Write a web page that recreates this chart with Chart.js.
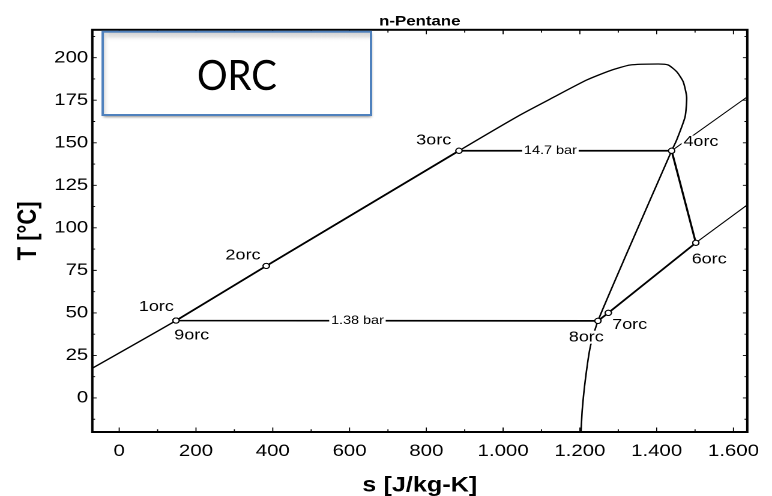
<!DOCTYPE html>
<html>
<head>
<meta charset="utf-8">
<title>n-Pentane T-s</title>
<script src="https://cdn.jsdelivr.net/npm/chart.js@4.4.0/dist/chart.umd.min.js"></script>
<style>
  html, body { margin: 0; padding: 0; background: #fff; overflow: hidden; width: 772px; height: 496px; }
  /* The plot is drawn on a narrower canvas and widened to the full page width */
  #wrap { width: 643px; height: 496px; transform: scaleX(1.20062); transform-origin: 0 0; }
  canvas { display: block; }
</style>
</head>
<body>
<div id="wrap"><canvas id="ts" width="643" height="496"></canvas></div>
<script>
// Saturation dome of n-pentane: entropy s [J/kg-K] and temperature T [°C]
const domeS = [-70, 148, 383, 885, 1044, 1131, 1218, 1279, 1331, 1404, 1430, 1452, 1469, 1478, 1474, 1452, 1439, 1322, 1247, 1227, 1214, 1206, 1203];
const domeT = [17.5, 45.5, 77.6, 145.3, 166.3, 176.7, 186.9, 192.4, 195.7, 196.3, 195.7, 191.8, 185.9, 177, 165.3, 151.6, 145.3, 84.9, 45.3, 30, 10.4, -7.3, -20];

// ORC state points, in cycle order
const stateNames = ['1orc', '2orc', '3orc', '4orc', '6orc', '7orc', '8orc', '9orc'];
const stateS = [148, 383, 885, 1439, 1502, 1274, 1247, 148];
const stateT = [45.5, 77.6, 145.3, 145.3, 91.2, 50, 45.3, 45.5];

// Isobars continued into the superheated vapour region
const highIsobarS = [1439, 1636];
const highIsobarT = [145.3, 177];
const lowIsobarS = [1502, 1636];
const lowIsobarT = [91.2, 113.5];
const isobarNames = ['14.7 bar', '1.38 bar'];

// Axis ticks
const xTicks = [0, 200, 400, 600, 800, 1000, 1200, 1400, 1600];
const xTickLabels = ['0', '200', '400', '600', '800', '1.000', '1.200', '1.400', '1.600'];
const xMinorTicks = [100, 300, 500, 700, 900, 1100, 1300, 1500];
const yTicks = [0, 25, 50, 75, 100, 125, 150, 175, 200];
const yMinorTicks = [-12.5, 12.5, 37.5, 62.5, 87.5, 112.5, 137.5, 162.5, 187.5, 212.5];

const FONT = '"Liberation Sans", Arial, Helvetica, sans-serif';
const WIDEN = 772 / 643;

// Label placement around each state point (canvas px)
const labelOffsets = {
  '1orc': [-16.4, -13.8], '2orc': [-19.4, -10.4], '3orc': [-21, -10.2], '4orc': [24.4, -8.7],
  '6orc': [11.1, 16.6], '7orc': [17.8, 12], '8orc': [-9.7, 16.3], '9orc': [13.1, 14.7]
};

const toXY = (sArr, tArr) => sArr.map((s, i) => ({ x: s, y: tArr[i] }));

function boxedText(ctx, text, cx, cy, h) {
  const w = ctx.measureText(text).width;
  ctx.fillStyle = '#fff';
  ctx.fillRect(cx - w / 2 - 1.5, cy - h / 2, w + 3, h);
  ctx.fillStyle = '#000';
  ctx.fillText(text, cx, cy);
}

const annotations = {
  id: 'annotations',
  afterDatasetsDraw(chart) {
    const { ctx, scales: { x, y } } = chart;
    ctx.save();
    ctx.textAlign = 'center';
    ctx.textBaseline = 'middle';

    // isobar labels sit on the horizontal segments 3orc-4orc and 9orc-8orc
    ctx.font = '12px ' + FONT;
    const hx = x.getPixelForValue(stateS[2]) + 0.43 * (x.getPixelForValue(stateS[3]) - x.getPixelForValue(stateS[2]));
    boxedText(ctx, isobarNames[0], hx, y.getPixelForValue(stateT[2]), 12);
    const lx = x.getPixelForValue(stateS[7]) + 0.43 * (x.getPixelForValue(stateS[6]) - x.getPixelForValue(stateS[7]));
    boxedText(ctx, isobarNames[1], lx, y.getPixelForValue(stateT[7]), 12);

    // state point names
    ctx.font = '15px ' + FONT;
    stateNames.forEach((name, i) => {
      const off = labelOffsets[name];
      boxedText(ctx, name, x.getPixelForValue(stateS[i]) + off[0], y.getPixelForValue(stateT[i]) + off[1], 13);
    });
    ctx.restore();

    // markers on top of the labels' white boxes
    const meta = chart.getDatasetMeta(1);
    meta.data.forEach(pt => pt.draw(ctx, chart.chartArea));
  },
  afterDraw(chart) {
    const { ctx, chartArea: a, scales: { x, y } } = chart;
    ctx.save();
    ctx.strokeStyle = '#000';
    // inward ticks on all four sides
    ctx.lineWidth = 0.9;
    ctx.beginPath();
    const xt = (list, len) => list.forEach(v => {
      const p = x.getPixelForValue(v);
      ctx.moveTo(p, a.bottom); ctx.lineTo(p, a.bottom - len);
      ctx.moveTo(p, a.top); ctx.lineTo(p, a.top + len);
    });
    const yt = (list, len) => list.forEach(v => {
      const p = y.getPixelForValue(v);
      ctx.moveTo(a.left, p); ctx.lineTo(a.left + len, p);
      ctx.moveTo(a.right, p); ctx.lineTo(a.right - len, p);
    });
    xt(xTicks, 4.5); xt(xMinorTicks, 2.8);
    yt(yTicks, 3.6); yt(yMinorTicks, 2.3);
    ctx.stroke();
    ctx.lineWidth = 2;
    ctx.strokeRect(a.left, a.top, a.right - a.left, a.bottom - a.top);

    // "ORC" caption box with a soft drop shadow and inner shading
    const bx0 = 102.7 / WIDEN, bx1 = 371 / WIDEN, by0 = 31.7, by1 = 115;
    ctx.save();
    ctx.shadowColor = 'rgba(0,0,0,0.45)';
    ctx.shadowBlur = 5;
    ctx.shadowOffsetY = 4;
    ctx.shadowOffsetX = 1;
    ctx.fillStyle = '#fff';
    ctx.fillRect(bx0, by0, bx1 - bx0, by1 - by0);
    ctx.restore();
    let g = ctx.createLinearGradient(0, by0, 0, by0 + 10);
    g.addColorStop(0, '#cfcfcf'); g.addColorStop(0.5, '#e4e4e4'); g.addColorStop(1, 'rgba(255,255,255,0)');
    ctx.fillStyle = g;
    ctx.fillRect(bx0, by0, bx1 - bx0, 10);
    g = ctx.createLinearGradient(bx0, 0, bx0 + 6, 0);
    g.addColorStop(0, '#cfcfcf'); g.addColorStop(1, 'rgba(255,255,255,0)');
    ctx.fillStyle = g;
    ctx.fillRect(bx0, by0, 6, by1 - by0);
    ctx.strokeStyle = '#4f81bd';
    ctx.lineWidth = 2;
    ctx.strokeRect(bx0, by0, bx1 - bx0, by1 - by0);

    ctx.font = '42px Lato, "Open Sans", sans-serif';
    ctx.textAlign = 'center';
    ctx.textBaseline = 'alphabetic';
    const tw = ctx.measureText('ORC').width;
    ctx.translate((bx0 + bx1) / 2, 90);
    ctx.scale((80 / WIDEN) / tw, 1);
    ctx.fillStyle = '#000';
    ctx.fillText('ORC', 0, 0);
    ctx.restore();
  }
};

new Chart(document.getElementById('ts'), {
  type: 'scatter',
  data: {
    datasets: [
      { label: 'Saturation line', data: toXY(domeS, domeT), showLine: true, borderColor: '#000', borderWidth: 1.3, pointRadius: 0, tension: 0.2 },
      { label: 'Cycle', data: toXY(stateS, stateT), showLine: true, borderColor: '#000', borderWidth: 1.7, tension: 0,
        pointRadius: 2.6, pointBorderWidth: 1, pointBackgroundColor: '#fff', pointBorderColor: '#000' },
      { label: '14.7 bar isobar', data: toXY(highIsobarS, highIsobarT), showLine: true, borderColor: '#000', borderWidth: 1, pointRadius: 0 },
      { label: '1.38 bar isobar', data: toXY(lowIsobarS, lowIsobarT), showLine: true, borderColor: '#000', borderWidth: 1, pointRadius: 0 }
    ]
  },
  options: {
    responsive: false,
    animation: false,
    devicePixelRatio: 2,
    events: [],
    layout: { padding: { left: 0, right: 20.6, top: 0, bottom: 0 } },
    plugins: {
      legend: { display: false },
      tooltip: { enabled: false },
      title: {
        display: true, text: 'n-Pentane', color: '#000', fullSize: false,
        font: { family: FONT, size: 14, weight: 'bold' },
        padding: { top: 13, bottom: 0 }
      }
    },
    scales: {
      x: {
        type: 'linear', position: 'bottom', min: -70, max: 1636,
        afterBuildTicks: s => { s.ticks = xTicks.map(v => ({ value: v })); },
        afterFit: s => { s.height = 64; },
        grid: { display: false, drawTicks: false },
        border: { display: false },
        ticks: {
          color: '#000', font: { family: FONT, size: 17 }, padding: 9, autoSkip: false, maxRotation: 0,
          callback: v => xTickLabels[xTicks.indexOf(v)]
        },
        title: { display: true, text: 's [J/kg-K]', color: '#000', font: { family: FONT, size: 21, weight: 'bold', lineHeight: 1 }, padding: { top: 0, bottom: 0 } }
      },
      y: {
        type: 'linear', position: 'left', min: -20, max: 216.4,
        afterBuildTicks: s => { s.ticks = yTicks.map(v => ({ value: v })); },
        afterFit: s => { s.width = 76.9; },
        grid: { display: false, drawTicks: false },
        border: { display: false },
        ticks: { color: '#000', font: { family: FONT, size: 17 }, padding: 3.4 },
        title: { display: true, text: 'T [°C]', color: '#000', font: { family: FONT, size: 22, weight: 'bold', lineHeight: 1 }, padding: { top: 12.8, bottom: 0 } }
      }
    }
  },
  plugins: [annotations]
});
</script>
</body>
</html>
